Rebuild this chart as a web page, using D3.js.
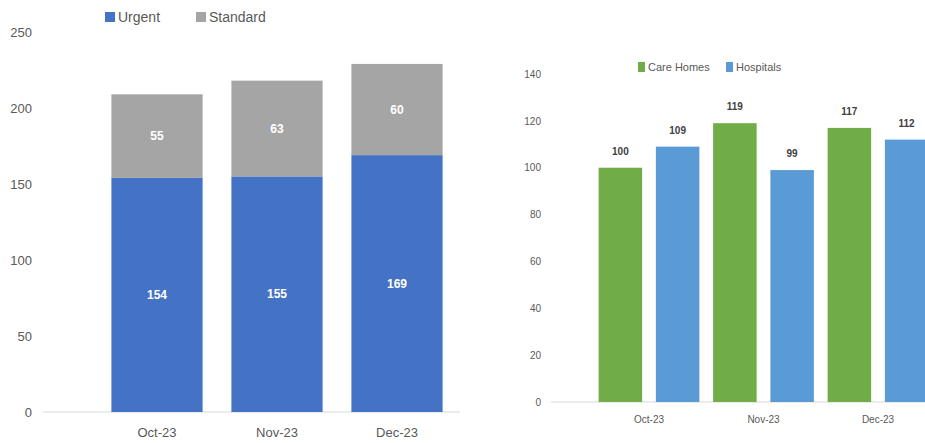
<!DOCTYPE html>
<html>
<head>
<meta charset="utf-8">
<script src="https://cdn.jsdelivr.net/npm/d3@7"></script>
<style>
  body { margin: 0; background: #fff; }
  text { font-family: "Liberation Sans", "Noto Sans", sans-serif; }
</style>
</head>
<body>
<div id="chart"></div>
<script>
// data
const months = ["Oct-23", "Nov-23", "Dec-23"];
const urgent = [154, 155, 169];
const standard = [55, 63, 60];
const careHomes = [100, 119, 117];
const hospitals = [109, 99, 112];
const leftTicks = [0, 50, 100, 150, 200, 250];
const rightTicks = [0, 20, 40, 60, 80, 100, 120, 140];

const width = 925, height = 443;
const textGrey = "#595959";

let svg = d3.select("#chart")
    .append("svg")
    .attr("width", width)
    .attr("height", height);

// ---------- left chart: stacked bars ----------
let y1 = d3.scaleLinear().domain([0, 250]).range([412, 32]);
let x1 = d3.scaleBand().domain(months).range([97, 457])
    .paddingInner(0.24).paddingOuter(0.12);

let left = svg.append("g");

left.append("g")
    .attr("transform", "translate(32,0)")
    .call(d3.axisLeft(y1).tickValues(leftTicks).tickSize(0).tickPadding(0))
    .call(g => g.select(".domain").remove())
    .selectAll("text")
    .attr("fill", textGrey)
    .style("font-size", "13px");

left.append("line")
    .attr("x1", 43).attr("x2", 460)
    .attr("y1", y1(0)).attr("y2", y1(0))
    .attr("stroke", "#d9d9d9");

let stackData = months.map(function(m, i) {
    return {month: m, Urgent: urgent[i], Standard: standard[i]};
});
let series1 = d3.stack().keys(["Urgent", "Standard"])(stackData);
let color1 = d3.scaleOrdinal().domain(["Urgent", "Standard"]).range(["#4472C4", "#A5A5A5"]);

series1.forEach(function(s) {
    left.selectAll(null).data(s).enter()
        .append("rect")
        .attr("x", d => x1(d.data.month))
        .attr("y", d => y1(d[1]))
        .attr("width", x1.bandwidth())
        .attr("height", d => y1(d[0]) - y1(d[1]))
        .attr("fill", color1(s.key));

    left.selectAll(null).data(s).enter()
        .append("text")
        .attr("x", d => x1(d.data.month) + x1.bandwidth() / 2)
        .attr("y", d => (y1(d[0]) + y1(d[1])) / 2 + 4)
        .attr("text-anchor", "middle")
        .attr("fill", "#fff")
        .style("font-size", "12px")
        .style("font-weight", "bold")
        .text(d => d[1] - d[0]);
});

left.append("g")
    .attr("transform", "translate(0," + y1(0) + ")")
    .call(d3.axisBottom(x1).tickSize(0).tickPadding(16))
    .call(g => g.select(".domain").remove())
    .selectAll("text")
    .attr("fill", textGrey)
    .style("font-size", "13px");

// legend left
let legend1 = [["Urgent", 105], ["Standard", 196]];
legend1.forEach(function(l) {
    left.append("rect").attr("x", l[1]).attr("y", 12).attr("width", 10).attr("height", 10)
        .attr("fill", color1(l[0]));
    left.append("text").attr("x", l[1] + 13).attr("y", 22)
        .attr("fill", textGrey).style("font-size", "14px").text(l[0]);
});

// ---------- right chart: grouped bars ----------
let y2 = d3.scaleLinear().domain([0, 140]).range([402, 74]);
let x2 = d3.scaleBand().domain(months).range([591.75, 935.25])
    .paddingInner(0.12).paddingOuter(0.06);
let keys2 = ["Care Homes", "Hospitals"];
let xs = d3.scaleBand().domain(keys2).range([0, x2.bandwidth()]).paddingInner(0.24);
let color2 = d3.scaleOrdinal().domain(keys2).range(["#70AD47", "#5B9BD5"]);

let right = svg.append("g");

right.append("g")
    .attr("transform", "translate(541,0)")
    .call(d3.axisLeft(y2).tickValues(rightTicks).tickSize(0).tickPadding(0))
    .call(g => g.select(".domain").remove())
    .selectAll("text")
    .attr("fill", textGrey)
    .style("font-size", "10px");

right.append("line")
    .attr("x1", 551).attr("x2", 925)
    .attr("y1", y2(0)).attr("y2", y2(0))
    .attr("stroke", "#d9d9d9");

let groupData = months.map(function(m, i) {
    return {month: m, values: [{key: "Care Homes", v: careHomes[i]}, {key: "Hospitals", v: hospitals[i]}]};
});

let groups = right.selectAll(".grp").data(groupData).enter()
    .append("g")
    .attr("class", "grp")
    .attr("transform", d => "translate(" + x2(d.month) + ",0)");

groups.selectAll("rect").data(d => d.values).enter()
    .append("rect")
    .attr("x", d => xs(d.key))
    .attr("y", d => y2(d.v))
    .attr("width", xs.bandwidth())
    .attr("height", d => y2(0) - y2(d.v))
    .attr("fill", d => color2(d.key));

groups.selectAll("text").data(d => d.values).enter()
    .append("text")
    .attr("x", d => xs(d.key) + xs.bandwidth() / 2)
    .attr("y", d => y2(d.v) - 13)
    .attr("text-anchor", "middle")
    .attr("fill", "#404040")
    .style("font-size", "10px")
    .style("font-weight", "bold")
    .text(d => d.v);

right.append("g")
    .attr("transform", "translate(0," + y2(0) + ")")
    .call(d3.axisBottom(x2).tickSize(0).tickPadding(14))
    .call(g => g.select(".domain").remove())
    .selectAll("text")
    .attr("fill", textGrey)
    .style("font-size", "10px");

let legend2 = [["Care Homes", 638], ["Hospitals", 726]];
legend2.forEach(function(l) {
    right.append("rect").attr("x", l[1]).attr("y", 62).attr("width", 7).attr("height", 10)
        .attr("fill", color2(l[0]));
    right.append("text").attr("x", l[1] + 10).attr("y", 71)
        .attr("fill", textGrey).style("font-size", "11px").text(l[0]);
});
</script>
</body>
</html>
